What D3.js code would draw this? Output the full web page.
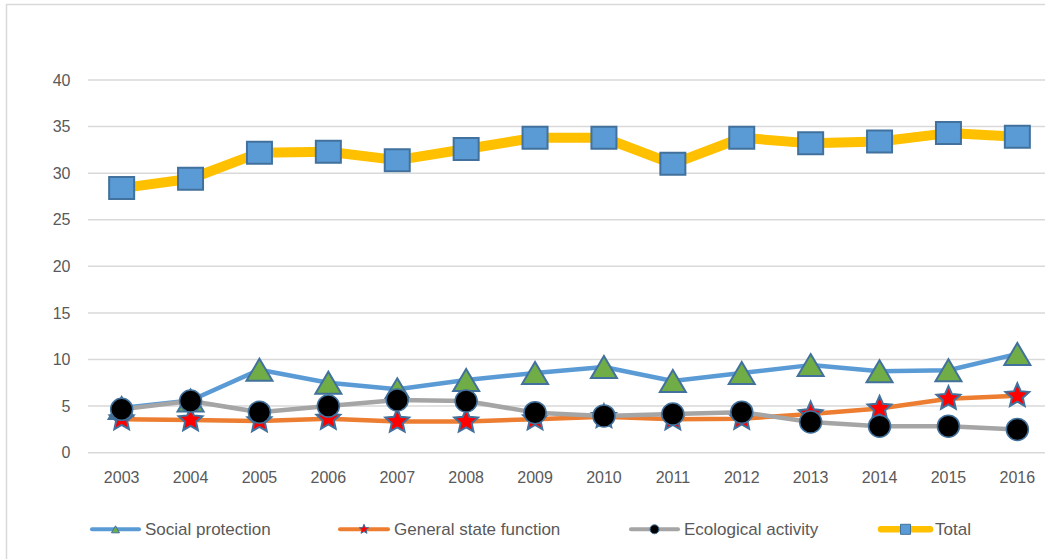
<!DOCTYPE html>
<html><head><meta charset="utf-8">
<script src="https://cdn.jsdelivr.net/npm/d3@7"></script>
<style>html,body{margin:0;padding:0;background:#fff;}svg{display:block;font-family:"Liberation Sans",Arial,sans-serif;}</style>
</head><body>
<svg id="c" width="1045" height="559"></svg>
<script>
const years = ["2003","2004","2005","2006","2007","2008","2009","2010","2011","2012","2013","2014","2015","2016"];
const socialProtection = [4.8,5.6,8.9,7.5,6.8,7.8,8.55,9.2,7.7,8.55,9.4,8.75,8.85,10.6];
const generalStateFunction = [3.6,3.5,3.4,3.65,3.35,3.35,3.6,3.85,3.6,3.65,4.15,4.75,5.8,6.1];
const ecologicalActivity = [4.65,5.55,4.35,5.0,5.65,5.55,4.3,3.95,4.15,4.35,3.3,2.85,2.85,2.5];
const total = [28.4,29.4,32.2,32.3,31.4,32.6,33.8,33.8,31.0,33.8,33.2,33.4,34.3,33.9];
const yTicks = [0,5,10,15,20,25,30,35,40];
const seriesNames = ["Social protection","General state function","Ecological activity","Total"];

const svg = d3.select("#c");
const x = d3.scaleBand().domain(years).range([87.2, 1051.8]);
const y = d3.scaleLinear().domain([0,40]).range([452.7, 80]);
const cx = d => x(d) + x.bandwidth()/2;

// chart border
svg.append("rect").attr("x",6.5).attr("y",4.5).attr("width",1200).attr("height",800)
  .attr("fill","none").attr("stroke","#D9D9D9").attr("stroke-width",1.5);

// gridlines
svg.append("g").selectAll("line").data(yTicks).join("line")
  .attr("x1",88).attr("x2",1045).attr("y1",d=>y(d)).attr("y2",d=>y(d))
  .attr("stroke","#D9D9D9").attr("stroke-width",1.5);

// y labels
svg.append("g").selectAll("text").data(yTicks).join("text")
  .attr("x",70.5).attr("y",d=>y(d)).attr("dy","0.35em").attr("text-anchor","end")
  .attr("font-size",16).attr("fill","#595959").text(d=>d);

// x labels
svg.append("g").selectAll("text").data(years).join("text")
  .attr("x",d=>cx(d)).attr("y",483.3).attr("text-anchor","middle")
  .attr("font-size",16).attr("fill","#595959").text(d=>d);

function starPath(R, r){
  const pts=[];
  for(let i=0;i<10;i++){
    const a = -Math.PI/2 + i*Math.PI/5;
    const rr = i%2===0?R:r;
    pts.push([rr*Math.cos(a), rr*Math.sin(a)]);
  }
  return "M"+pts.map(p=>p.join(",")).join("L")+"Z";
}
function triPath(w,h){ return `M0,${-h/2}L${w/2},${h/2}L${-w/2},${h/2}Z`; }
function rectPath(w,h){ return `M${-w/2},${-h/2}h${w}v${h}h${-w}Z`; }
function circPath(r){ return `M${-r},0a${r},${r} 0 1,0 ${2*r},0a${r},${r} 0 1,0 ${-2*r},0Z`; }

const series = [
  {name:seriesNames[0], values:socialProtection, color:"#5B9BD5", lw:4.5, marker:triPath(26,22), lmarker:triPath(8,7), fill:"#70AD47", mstroke:"#41719C", msw:2},
  {name:seriesNames[1], values:generalStateFunction, color:"#ED7D31", lw:4.5, marker:starPath(12.5,5.8), lmarker:starPath(5,2.3), fill:"#FF0000", mstroke:"#41719C", msw:2},
  {name:seriesNames[2], values:ecologicalActivity, color:"#A5A5A5", lw:4.5, marker:circPath(11), lmarker:circPath(4.5), fill:"#000000", mstroke:"#41719C", msw:1.5},
  {name:seriesNames[3], values:total, color:"#FFC000", lw:10, marker:rectPath(25,22), lmarker:rectPath(10,10), fill:"#5B9BD5", mstroke:"#41719C", msw:2}
];

const line = d3.line().x(d=>cx(d[0])).y(d=>y(d[1]));
series.forEach(s=>{
  const pts = years.map((yr,i)=>[yr,s.values[i]]);
  const g = svg.append("g");
  g.append("path").attr("d",line(pts)).attr("fill","none").attr("stroke",s.color)
    .attr("stroke-width",s.lw).attr("stroke-linejoin","round").attr("stroke-linecap","round");
  g.selectAll("path.m").data(pts).join("path").attr("class","m")
    .attr("transform",d=>`translate(${cx(d[0])},${y(d[1])})`)
    .attr("d",s.marker).attr("fill",s.fill).attr("stroke",s.mstroke).attr("stroke-width",s.msw)
    .attr("stroke-linejoin","miter");
});

// legend
const legX = [[90,141,145],[338,390,394],[629,680,684],[879,932,935]];
const legY = 529.3;
series.forEach((s,i)=>{
  const [x1,x2,tx] = legX[i];
  const g = svg.append("g");
  g.append("line").attr("x1",x1+2).attr("x2",x2-2).attr("y1",legY).attr("y2",legY)
    .attr("stroke",s.color).attr("stroke-width",i===3?6.5:4).attr("stroke-linecap","round");
  g.append("path").attr("transform",`translate(${(x1+x2)/2},${legY})`).attr("d",s.lmarker)
    .attr("fill",s.fill).attr("stroke",s.mstroke).attr("stroke-width",1);
  g.append("text").attr("x",tx).attr("y",legY).attr("dy","0.35em").attr("font-size",17)
    .attr("fill","#595959").text(s.name);
});
</script>
</body></html>
